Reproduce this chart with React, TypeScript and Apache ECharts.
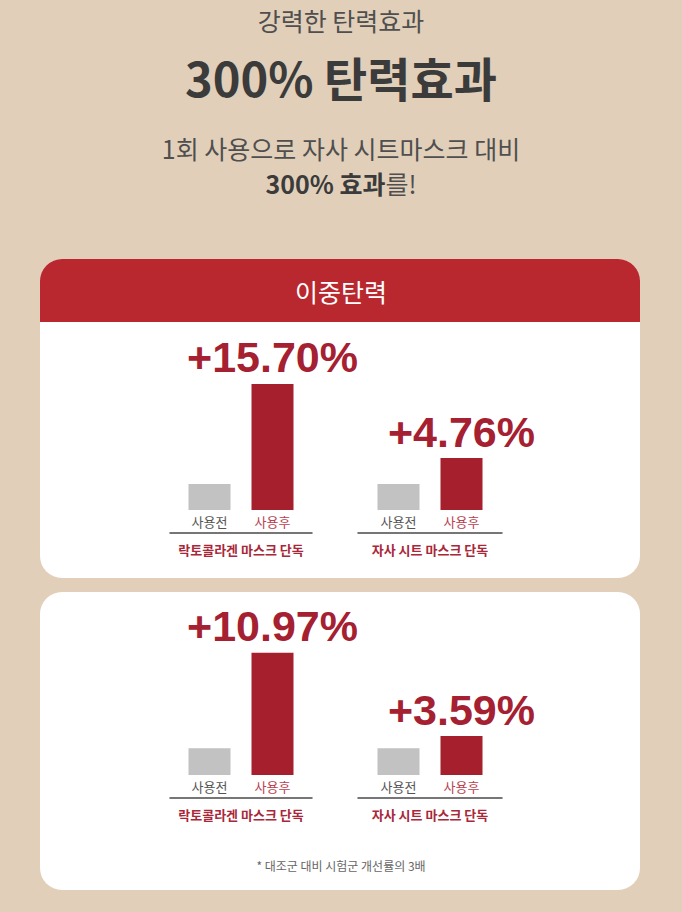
import React, { useEffect, useRef } from "react";
import * as echarts from "echarts";

// ---- data ----
const groupNames = ["락토콜라겐 마스크 단독", "자사 시트 마스크 단독"];
const beforeName = "사용전";
const afterName = "사용후";
// relative elasticity index (bar heights)
const card1Before = [20, 20];
const card1After = [97, 40];
const card2Before = [20.5, 20.5];
const card2After = [94, 30];
const card1Gain = ["+15.70%", "+4.76%"];
const card2Gain = ["+10.97%", "+3.59%"];

const KR = '"Noto Sans CJK KR", "Noto Sans", sans-serif';
const RED = "#a61f2d";
const GRAY = "#c2c2c2";

export default function App() {
  const ref = useRef<HTMLDivElement>(null);
  useEffect(() => {
    if (!ref.current) return;
    const chart = echarts.init(ref.current, undefined, { renderer: "svg" });

    const cards = [
      { before: card1Before, after: card1After, gain: card1Gain, top: 380 },
      { before: card2Before, after: card2After, gain: card2Gain, top: 645 },
    ];
    const groupX = [
      { left: 170, width: 142 },
      { left: 358, width: 144 },
    ];

    const grids: any[] = [];
    const xAxes: any[] = [];
    const yAxes: any[] = [];
    const series: any[] = [];
    let gi = 0;
    cards.forEach((card) => {
      groupX.forEach((gx, k) => {
        grids.push({
          left: gx.left,
          width: gx.width,
          top: card.top,
          height: 130,
          containLabel: false,
          outerBoundsMode: "none",
        });
        xAxes.push({
          type: "category",
          gridIndex: gi,
          data: [groupNames[k]],
          offset: 23,
          z: 3,
          axisLine: { show: true, onZero: false, lineStyle: { color: "#4a4a4a", width: 1.5 } },
          axisTick: { show: false },
          axisLabel: {
            color: "#a8283a",
            fontSize: 13,
            fontWeight: 600,
            fontFamily: KR,
            margin: 10,
          },
        });
        yAxes.push({ type: "value", gridIndex: gi, min: 0, max: 100, show: false });
        series.push({
          type: "bar",
          name: beforeName,
          xAxisIndex: gi,
          yAxisIndex: gi,
          data: [card.before[k]],
          barWidth: 42,
          barGap: "50%",
          itemStyle: { color: GRAY },
          label: {
            show: true,
            position: "bottom",
            distance: 5,
            formatter: "{a}",
            color: "#555555",
            fontSize: 13,
            fontFamily: KR,
          },
          silent: true,
        });
        series.push({
          type: "bar",
          name: afterName,
          xAxisIndex: gi,
          yAxisIndex: gi,
          data: [card.after[k]],
          barWidth: 42,
          barGap: "50%",
          itemStyle: { color: RED },
          label: {
            show: true,
            position: "bottom",
            distance: 5,
            formatter: "{a}",
            color: "#b8404f",
            fontSize: 13,
            fontFamily: KR,
          },
          markPoint: {
            symbol: "circle",
            symbolSize: 0,
            silent: true,
            data: [{ type: "max", name: "gain" }],
            label: {
              show: true,
              position: "top",
              distance: 5,
              formatter: card.gain[k],
              color: "#a52030",
              fontSize: 43,
              fontWeight: "bold",
              fontFamily: '"Liberation Sans", Arial, sans-serif',
            },
          },
          silent: true,
        });
        gi++;
      });
    });

    const txt = (text: string, y: number, font: string, fill: string, extra: any = {}) => ({
      type: "text",
      z: 5,
      x: 341,
      y,
      silent: true,
      style: {
        text,
        font,
        fill,
        textAlign: "center",
        textVerticalAlign: "middle",
        ...extra,
      },
    });

    chart.setOption({
      animation: false,
      backgroundColor: "#e2cfb9",
      graphic: {
        elements: [
          {
            type: "rect",
            z: -10,
            silent: true,
            shape: { x: 40, y: 259, width: 600, height: 319, r: 22 },
            style: { fill: "#ffffff" },
          },
          {
            type: "rect",
            z: -9,
            silent: true,
            shape: { x: 40, y: 259, width: 600, height: 63, r: [22, 22, 0, 0] },
            style: { fill: "#b9282f" },
          },
          {
            type: "rect",
            z: -10,
            silent: true,
            shape: { x: 40, y: 592, width: 600, height: 298, r: 22 },
            style: { fill: "#ffffff" },
          },
          txt("강력한 탄력효과", 20, `25px ${KR}`, "#4f4f4f"),
          txt("300% 탄력효과", 76, `bold 47px ${KR}`, "#3b3b3b"),
          txt("1회 사용으로 자사 시트마스크 대비", 148, `25px ${KR}`, "#4f4f4f"),
          {
            type: "text",
            z: 5,
            x: 341,
            y: 183,
            silent: true,
            style: {
              text: "{b|300% 효과}{n|를!}",
              textAlign: "center",
              textVerticalAlign: "middle",
              rich: {
                b: { fontSize: 25, fontWeight: "bold", fontFamily: KR, fill: "#3b3b3b", color: "#3b3b3b" },
                n: { fontSize: 25, fontFamily: KR, fill: "#4f4f4f", color: "#4f4f4f" },
              },
            },
          },
          txt("이중탄력", 291, `25px ${KR}`, "#ffffff"),
          txt("* 대조군 대비 시험군 개선률의 3배", 865, `12px ${KR}`, "#666666"),
        ],
      },
      grid: grids,
      xAxis: xAxes,
      yAxis: yAxes,
      series,
    });
    return () => chart.dispose();
  }, []);
  return (
    <div
      ref={ref}
      style={{ position: "absolute", left: 0, top: 0, width: 682, height: 912 }}
    />
  );
}
